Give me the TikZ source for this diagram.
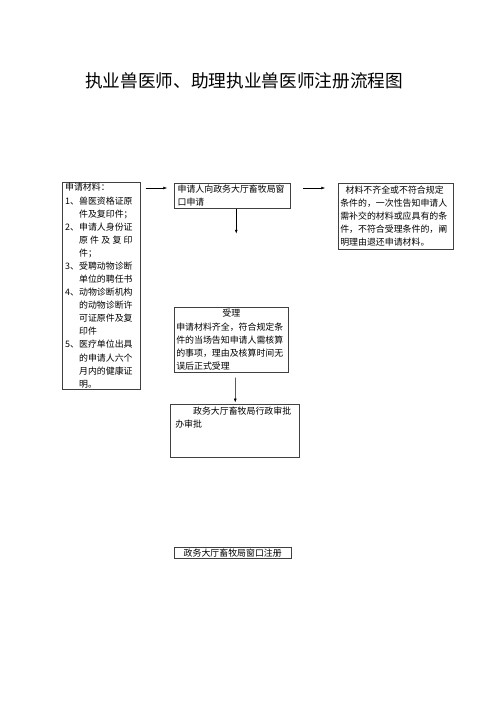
\documentclass[tikz,border=0pt]{standalone}
\usepackage{fontspec}
\setmainfont{Noto Sans CJK SC}
\usetikzlibrary{arrows.meta}

\begin{document}
\begin{tikzpicture}[x=1.2pt, y=-1.2pt,
    box/.style={draw=black!75, line width=0.6pt, anchor=north west, align=left,
      font=\fontsize{10.7}{15.7}\selectfont, inner ysep=1pt},
    arr/.style={-{Latex[length=4.5pt,width=3.6pt]}, line width=0.6pt}]
  \useasboundingbox (0,0) rectangle (496,702);

  % Title
  \node (title) at (244,81) {\fontsize{21.2}{25}\selectfont 执业兽医师、助理执业兽医师注册流程图};

  % Materials list
  \node[box, minimum width=93.6pt, minimum height=248.4pt, inner xsep=4pt, text width=85.6pt]
    (mat) at (61.5,182) {申请材料：\\
      \makebox[16.8pt][l]{1、}兽医资格证原\\
      \hspace*{16.8pt}件及复印件；\\
      \makebox[16.8pt][l]{2、}申请人身份证\\
      \hspace*{16.8pt}\makebox[64.2pt][s]{原\hfil 件\hfil 及\hfil 复\hfil 印}\\
      \hspace*{16.8pt}件；\\
      \makebox[16.8pt][l]{3、}受聘动物诊断\\
      \hspace*{16.8pt}单位的聘任书\\
      \makebox[16.8pt][l]{4、}动物诊断机构\\
      \hspace*{16.8pt}的动物诊断许\\
      \hspace*{16.8pt}可证原件及复\\
      \hspace*{16.8pt}印件\\
      \makebox[16.8pt][l]{5、}医疗单位出具\\
      \hspace*{16.8pt}的申请人六个\\
      \hspace*{16.8pt}月内的健康证\\
      \hspace*{16.8pt}明。};

  % Window application
  \node[box, minimum width=139.2pt, minimum height=30pt, inner xsep=4pt, text width=131.2pt]
    (win) at (174,183) {申请人向政务大厅畜牧局窗\\口申请};

  % Incomplete materials
  \node[box, minimum width=138pt, minimum height=79.2pt, inner xsep=2.4pt, text width=133.2pt]
    (lack) at (338,183) {\hspace*{0.6em}材料不齐全或不符合规定\\
      条件的，一次性告知申请人\\
      需补交的材料或应具有的条\\
      件，不符合受理条件的，阐\\
      明理由退还申请材料。};

  % Acceptance
  \node[box, minimum width=136.8pt, minimum height=78pt, inner xsep=2.4pt, text width=132pt]
    (accept) at (174,307) {\makebox[132pt]{受理}\\
      申请材料齐全，符合规定条\\
      件的当场告知申请人需核算\\
      的事项，理由及核算时间无\\
      误后正式受理};

  % Approval
  \node[box, minimum width=154.8pt, inner xsep=6pt, text width=142.8pt,
    inner ysep=2pt, text height=10.4pt, text depth=49.2pt]
    (approve) at (170,404) {\hspace*{2em}政务大厅畜牧局行政审批\\办审批};

  % Registration
  \node[box, minimum width=140.4pt, minimum height=13.2pt, align=center]
    (reg) at (174,547) {政务大厅畜牧局窗口注册};

  % Arrows
  \draw[arr] ([xshift=6.6pt,yshift=-7.2pt]mat.north east) -- ([xshift=-8.4pt,yshift=-6pt]win.north west);
  \draw[arr] ([xshift=14.4pt,yshift=-6pt]win.north east) -- ([xshift=-15.6pt,yshift=-6pt]lack.north west);
  \draw[arr] ([xshift=4.8pt]win.south) -- ++(0,25);
  \draw[arr] ([xshift=4.8pt,yshift=-6pt]accept.south) -- ([xshift=0.6pt,yshift=2pt]approve.north);
\end{tikzpicture}
\end{document}
